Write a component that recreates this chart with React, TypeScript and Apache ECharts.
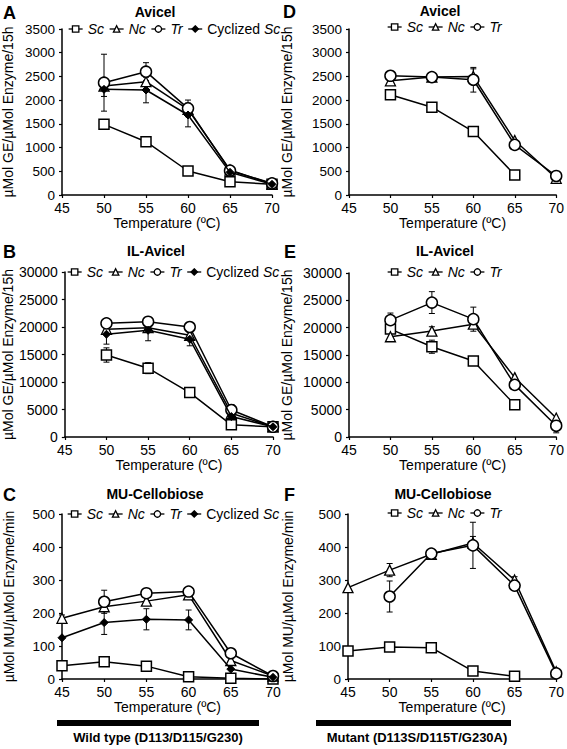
import React, { useEffect, useRef } from "react";
import * as echarts from "echarts";

// ---------- data ----------
const tempsAvicel = [50, 55, 60, 65, 70];
const tempsMU = [45, 50, 55, 60, 65, 70];

// Panel A: Avicel, wild type (µMol GE/µMol Enzyme/15h)
const aSc = [1490, 1124, 506, 281, 225];
const aNc = [2298, 2389, 1806, 527, 232];
const aTr = [2368, 2600, 1827, 513, 246];
const aCy = [2228, 2214, 1687, 478, 225];
const aScErr = [0, 0, 0, 0, 0];
const aNcErr = [0, 0, 0, 0, 0];
const aTrErr = [600, 190, 175, 0, 0];
const aCyErr = [150, 270, 250, 0, 0];

// Panel D: Avicel, mutant
const dSc = [2113, 1852, 1338, 423, null];
const dNc = [2408, 2486, 2500, 1148, 352];
const dTr = [2514, 2486, 2430, 1056, 401];
const dScErr = [0, 0, 0, 0, 0];
const dNcErr = [0, 0, 160, 0, 0];
const dTrErr = [0, 90, 260, 0, 0];

// Panel B: IL-Avicel, wild type
const bSc = [14910, 12515, 8084, 2216, 1856];
const bNc = [19580, 19880, 18500, 4311, 1856];
const bTr = [20660, 20958, 20000, 4910, 1856];
const bCy = [18683, 19400, 17784, 3712, 1856];
const bScErr = [1300, 1000, 800, 0, 0];
const bNcErr = [0, 0, 0, 0, 0];
const bTrErr = [0, 0, 0, 1000, 0];
const bCyErr = [1800, 1900, 1200, 900, 0];

// Panel E: IL-Avicel, mutant
const eSc = [19735, 16515, 13904, 5889, null];
const eNc = [18337, 19370, 20644, 10868, 3461];
const eTr = [21372, 24590, 21555, 9532, 2064];
const eScErr = [600, 1200, 0, 0, 0];
const eNcErr = [0, 800, 700, 0, 0];
const eTrErr = [1300, 2000, 2200, 0, 1300];

// Panel C: MU-Cellobiose, wild type (µMol MU/µMol Enzyme/min)
const cSc = [40, 52, 39, 7, 2, 0];
const cNc = [184, 219, 236, 255, 56, 9];
const cTr = [null, 234, 260, 265, 78, 9];
const cCy = [125, 171, 181, 179, 30, 5];
const cScErr = [0, 0, 0, 0, 0, 0];
const cNcErr = [10, 0, 0, 0, 0, 0];
const cTrErr = [0, 35, 13, 0, 0, 0];
const cCyErr = [0, 36, 32, 30, 0, 0];

// Panel F: MU-Cellobiose, mutant
const fSc = [85, 97, 95, 24, 8, null];
const fNc = [277, 330, 378, 412, 300, 22];
const fTr = [null, 250, 380, 405, 283, 17];
const fScErr = [10, 0, 0, 0, 0, 0];
const fNcErr = [0, 20, 0, 20, 10, 0];
const fTrErr = [0, 47, 0, 70, 0, 0];

const legendWT = ["Sc", "Nc", "Tr", "Cyclized Sc"];
const legendMut = ["Sc", "Nc", "Tr"];

const titles = ["Avicel", "Avicel", "IL-Avicel", "IL-Avicel", "MU-Cellobiose", "MU-Cellobiose"];
const letters = ["A", "D", "B", "E", "C", "F"];
const yNameGE = "µMol GE/µMol Enzyme/15h";
const yNameMU = "µMol MU/µMol Enzyme/min";
const xName = "Temperature (ºC)";
const groupLabels = ["Wild type (D113/D115/G230)", "Mutant (D113S/D115T/G230A)"];

// ---------- styling ----------
const FONT = "'Liberation Sans', Arial, Helvetica, sans-serif";

const markerStyles: Record<string, any> = {
  Sc: { symbol: "rect", symbolSize: 10, itemStyle: { color: "#fff", borderColor: "#000", borderWidth: 1.5 } },
  Nc: { symbol: "triangle", symbolSize: 10, itemStyle: { color: "#fff", borderColor: "#000", borderWidth: 1.3 } },
  Tr: { symbol: "circle", symbolSize: 11, itemStyle: { color: "#fff", borderColor: "#000", borderWidth: 1.5 } },
  "Cyclized Sc": { symbol: "diamond", symbolSize: 8, itemStyle: { color: "#000", borderColor: "#000", borderWidth: 1 } },
};

// grid layout (pixels)
const grids = [
  { left: 62, top: 29, width: 210, height: 166 }, // A
  { left: 349, top: 29, width: 209, height: 166 }, // D
  { left: 62, top: 272, width: 211, height: 165 }, // B
  { left: 349, top: 273, width: 209, height: 164 }, // E
  { left: 62, top: 514, width: 211, height: 165 }, // C
  { left: 348, top: 514, width: 210, height: 165 }, // F
];

type Def = { name: string; vals: (number | null)[]; err: number[] };

function pair(temps: number[], vals: (number | null)[]) {
  return temps.map((t, i) => [t, vals[i]]);
}

export default function App() {
  const ref = useRef<HTMLDivElement>(null);
  useEffect(() => {
    if (!ref.current) return;
    const chart = echarts.init(ref.current, undefined, { renderer: "svg" });

    const panels: { temps: number[]; defs: Def[] }[] = [
      { temps: tempsAvicel, defs: [
        { name: "Sc", vals: aSc, err: aScErr },
        { name: "Nc", vals: aNc, err: aNcErr },
        { name: "Tr", vals: aTr, err: aTrErr },
        { name: "Cyclized Sc", vals: aCy, err: aCyErr },
      ] },
      { temps: tempsAvicel, defs: [
        { name: "Sc", vals: dSc, err: dScErr },
        { name: "Nc", vals: dNc, err: dNcErr },
        { name: "Tr", vals: dTr, err: dTrErr },
      ] },
      { temps: tempsAvicel, defs: [
        { name: "Sc", vals: bSc, err: bScErr },
        { name: "Nc", vals: bNc, err: bNcErr },
        { name: "Tr", vals: bTr, err: bTrErr },
        { name: "Cyclized Sc", vals: bCy, err: bCyErr },
      ] },
      { temps: tempsAvicel, defs: [
        { name: "Sc", vals: eSc, err: eScErr },
        { name: "Nc", vals: eNc, err: eNcErr },
        { name: "Tr", vals: eTr, err: eTrErr },
      ] },
      { temps: tempsMU, defs: [
        { name: "Sc", vals: cSc, err: cScErr },
        { name: "Nc", vals: cNc, err: cNcErr },
        { name: "Tr", vals: cTr, err: cTrErr },
        { name: "Cyclized Sc", vals: cCy, err: cCyErr },
      ] },
      { temps: tempsMU, defs: [
        { name: "Sc", vals: fSc, err: fScErr },
        { name: "Nc", vals: fNc, err: fNcErr },
        { name: "Tr", vals: fTr, err: fTrErr },
      ] },
    ];

    const yMax = [3500, 3500, 30000, 30000, 500, 500];
    const yInt = [500, 500, 5000, 5000, 100, 100];
    const yGap = [47, 55, 47, 55, 46, 53];

    const axisLine = { show: true, lineStyle: { color: "#000", width: 1.5 } };
    const axisTick = { show: true, length: 3, lineStyle: { color: "#000", width: 1.2 } };

    const xAxis = grids.map((_, i) => ({
      type: "value", gridIndex: i, min: 45, max: 70, interval: 5,
      axisLine, axisTick, splitLine: { show: false },
      axisLabel: { color: "#000", fontSize: 14, fontFamily: FONT, margin: 6, formatter: (v: number) => String(v) },
      name: xName, nameLocation: "middle", nameGap: 20,
      nameTextStyle: { color: "#000", fontSize: 14, fontFamily: FONT },
    }));
    const yAxis = grids.map((_, i) => ({
      type: "value", gridIndex: i, min: 0, max: yMax[i], interval: yInt[i],
      axisLine, axisTick, splitLine: { show: false },
      axisLabel: { color: "#000", fontSize: i === 2 || i === 3 ? 14 : 13.5, fontFamily: FONT, margin: 7, formatter: (v: number) => String(v) },
      name: i < 4 ? yNameGE : yNameMU, nameLocation: "middle", nameGap: yGap[i],
      nameTextStyle: { color: "#000", fontSize: 14, fontFamily: FONT },
    }));

    const series: any[] = [];
    panels.forEach((p, pi) => {
      const errData: any[] = [];
      p.defs.forEach((d) => {
        d.vals.forEach((v, k) => {
          if (v != null && d.err[k] > 0) errData.push([p.temps[k], v - d.err[k], v + d.err[k]]);
        });
      });
      series.push({
        type: "custom", name: "err" + pi, xAxisIndex: pi, yAxisIndex: pi, z: 1,
        data: errData, encode: { x: 0, y: [1, 2] },
        renderItem: (params: any, api: any) => {
          const x = api.value(0);
          const lo = api.coord([x, api.value(1)]);
          const hi = api.coord([x, api.value(2)]);
          const w = 3;
          const st = { stroke: "#000", lineWidth: 1 };
          return {
            type: "group",
            children: [
              { type: "line", shape: { x1: lo[0], y1: lo[1], x2: hi[0], y2: hi[1] }, style: st },
              { type: "line", shape: { x1: hi[0] - w, y1: hi[1], x2: hi[0] + w, y2: hi[1] }, style: st },
              { type: "line", shape: { x1: lo[0] - w, y1: lo[1], x2: lo[0] + w, y2: lo[1] }, style: st },
            ],
          };
        },
      });
      p.defs.forEach((d, di) => {
        const m = markerStyles[d.name];
        series.push({
          type: "line", name: d.name, xAxisIndex: pi, yAxisIndex: pi, z: 3 + di,
          data: pair(p.temps, d.vals),
          symbol: m.symbol, symbolSize: m.symbolSize, showSymbol: true,
          itemStyle: m.itemStyle,
          lineStyle: { color: "#000", width: 1.5 },
          color: "#000",
        });
      });
    });

    const legendPos = [
      { left: 68, top: 22, data: legendWT },
      { left: 387, top: 20, data: legendMut },
      { left: 67, top: 265, data: legendWT },
      { left: 387, top: 265, data: legendMut },
      { left: 67, top: 507, data: legendWT },
      { left: 387, top: 506, data: legendMut },
    ];
    const legend = legendPos.map((l) => ({
      left: l.left, top: l.top, data: l.data, orient: "horizontal", padding: 0,
      itemWidth: 14, itemHeight: 8, itemGap: 5, selectedMode: false,
      itemStyle: { borderWidth: 1.3 },
      lineStyle: { width: 1.3 },
      formatter: (name: string) => (name === "Cyclized Sc" ? "Cyclized {i|Sc}" : "{i|" + name + "}"),
      textStyle: {
        color: "#000", fontSize: 14, fontFamily: FONT,
        rich: { i: { fontStyle: "italic", fontSize: 14, fontFamily: FONT, color: "#000" } },
      },
    }));

    const titlePos = [
      { x: 155, y: 5 }, { x: 440, y: 4 }, { x: 156, y: 244 }, { x: 445, y: 244 }, { x: 155, y: 487 }, { x: 443, y: 487 },
    ];
    const title = titles.map((t, i) => ({
      text: t, left: titlePos[i].x, top: titlePos[i].y, textAlign: "center",
      textStyle: { color: "#000", fontSize: 14, fontWeight: "bold", fontFamily: FONT },
      padding: 0,
    }));

    const letterPos = [
      { x: 3, y: 4 }, { x: 283, y: 3 }, { x: 3, y: 243 }, { x: 284, y: 243 }, { x: 3, y: 486 }, { x: 284, y: 486 },
    ];
    const graphic: any[] = letters.map((L, i) => ({
      type: "text", left: letterPos[i].x, top: letterPos[i].y,
      style: { text: L, fill: "#000", font: "bold 18px " + FONT },
    }));
    graphic.push({ type: "rect", shape: { x: 57, y: 720, width: 202, height: 6 }, style: { fill: "#000" } });
    graphic.push({ type: "rect", shape: { x: 316, y: 720, width: 195, height: 6 }, style: { fill: "#000" } });
    graphic.push({ type: "text", x: 158, y: 737, style: { text: groupLabels[0], fill: "#000", font: "bold 13px " + FONT, align: "center", verticalAlign: "middle" } });
    graphic.push({ type: "text", x: 417, y: 737, style: { text: groupLabels[1], fill: "#000", font: "bold 13px " + FONT, align: "center", verticalAlign: "middle" } });

    chart.setOption({
      animation: false,
      backgroundColor: "#fff",
      textStyle: { fontFamily: FONT },
      title, legend,
      grid: grids.map((g) => ({ ...g, containLabel: false })),
      xAxis, yAxis, series, graphic,
    });
    return () => chart.dispose();
  }, []);

  return (
    <div ref={ref} style={{ position: "fixed", left: 0, top: 0, width: 567, height: 749, background: "#fff" }} />
  );
}
